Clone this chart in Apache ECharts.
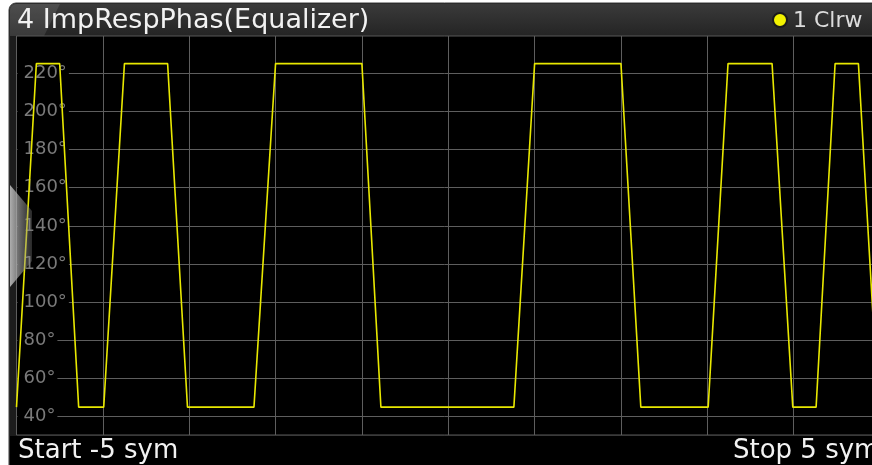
<!DOCTYPE html>
<html>
<head>
<meta charset="utf-8">
<script src="https://cdn.jsdelivr.net/npm/echarts@6/dist/echarts.min.js"></script>
<style>
html,body{margin:0;padding:0;background:#fff;overflow:hidden;}
#c{width:872px;height:465px;}
</style>
</head>
<body>
<div id="c"></div>
<script>
// ---- data ----
var titleText = '4 ImpRespPhas(Equalizer)';
var traceLabel = '1 Clrw';
var startLabel = 'Start -5 sym';
var stopLabel = 'Stop 5 sym';
var xMin = -5, xMax = 5;
var yTicks = [40, 60, 80, 100, 120, 140, 160, 180, 200, 220];
var symbolPos = [-5.0, -4.77, -4.50, -4.28, -3.99, -3.75, -3.25, -3.02, -2.25, -2.0, -1.0, -0.78,
                 0.76, 1.0, 2.0, 2.23, 3.01, 3.24, 3.75, 3.99, 4.26, 4.48, 4.75, 4.98, 5.0];
var phaseDeg  = [45, 225, 225, 45, 45, 225, 225, 45, 45, 225, 225, 45,
                 45, 225, 225, 45, 45, 225, 225, 45, 45, 225, 225, 45, 45];

var seriesData = symbolPos.map(function (x, i) { return [x, phaseDeg[i]]; });

var chart = echarts.init(document.getElementById('c'), null, {renderer: 'canvas'});
var gridColor = '#5e5e5e';
var yMin = 30.4, yMax = 239.5;

chart.setOption({
  backgroundColor: '#ffffff',
  animation: false,
  grid: {
    left: 16.5, width: 863.5, top: 36, height: 399,
    outerBoundsMode: 'none', containLabel: false,
    show: true, backgroundColor: '#000', borderColor: '#585858', borderWidth: 1
  },
  xAxis: {
    type: 'value', min: xMin, max: xMax, interval: 1,
    axisLine: {show: false}, axisTick: {show: false}, axisLabel: {show: false},
    splitLine: {show: true, lineStyle: {color: gridColor, width: 1}}
  },
  yAxis: [{
    type: 'value', min: yMin, max: yMax, z: 0,
    axisLine: {show: false},
    axisTick: {show: false, customValues: yTicks},
    axisLabel: {show: false, customValues: yTicks},
    splitLine: {show: true, lineStyle: {color: gridColor, width: 1}}
  }, {
    type: 'value', min: yMin, max: yMax, z: 1, position: 'left',
    axisLine: {show: false},
    axisTick: {show: false, customValues: yTicks},
    splitLine: {show: false},
    axisLabel: {
      show: true, inside: true, margin: 1, customValues: yTicks,
      formatter: function (v) { return v + '°'; },
      color: '#7a7a7a', fontFamily: 'DejaVu Sans', fontSize: 18,
      backgroundColor: '#000', padding: [1, 2, 1, 6]
    }
  }],
  series: [{
    type: 'line', xAxisIndex: 0, yAxisIndex: 0, z: 3,
    data: seriesData, showSymbol: false, clip: true,
    lineStyle: {color: '#e8e800', width: 1.6}
  }],
  graphic: {
    elements: [
      {type: 'rect', z: -10, shape: {x: 9, y: 3, width: 880, height: 475, r: 7},
       style: {fill: '#1c1c1c', stroke: '#3c3c3c', lineWidth: 1}},
      {type: 'rect', z: -9, shape: {x: 10, y: 4, width: 880, height: 32, r: [6, 0, 0, 0]},
       style: {fill: new echarts.graphic.LinearGradient(0, 0, 0, 1, [
         {offset: 0, color: '#3a3a3a'}, {offset: 1, color: '#242424'}])}},
      {type: 'polygon', z: -8, shape: {points: [[10, 4], [60, 4], [44, 36], [10, 36]]},
       style: {fill: 'rgba(255,255,255,0.10)'}},
      {type: 'rect', z: -9, shape: {x: 10, y: 436, width: 880, height: 40},
       style: {fill: '#000'}},
      {type: 'text', z: 10, x: 17, y: 21,
       style: {text: titleText, fill: '#f2f2f2', font: '27px "DejaVu Sans"', verticalAlign: 'middle'}},
      {type: 'circle', z: 10, shape: {cx: 780, cy: 20, r: 7},
       style: {fill: '#f2f200', stroke: '#1a1a1a', lineWidth: 2}},
      {type: 'text', z: 10, x: 793, y: 21,
       style: {text: traceLabel, fill: '#dcdcdc', font: '22px "DejaVu Sans"', verticalAlign: 'middle'}},
      {type: 'text', z: 10, x: 18, y: 451,
       style: {text: startLabel, fill: '#f2f2f2', font: '26px "DejaVu Sans"', verticalAlign: 'middle'}},
      {type: 'text', z: 10, x: 733, y: 451,
       style: {text: stopLabel, fill: '#f2f2f2', font: '26px "DejaVu Sans"', verticalAlign: 'middle'}},
      {type: 'polygon', z: 20, shape: {points: [[10, 185], [32, 211], [32, 261], [10, 287]]},
       style: {fill: new echarts.graphic.LinearGradient(0, 0, 1, 0, [
         {offset: 0, color: 'rgba(210,210,210,0.8)'}, {offset: 1, color: 'rgba(120,120,120,0.35)'}])}}
    ]
  }
});
</script>
</body>
</html>
